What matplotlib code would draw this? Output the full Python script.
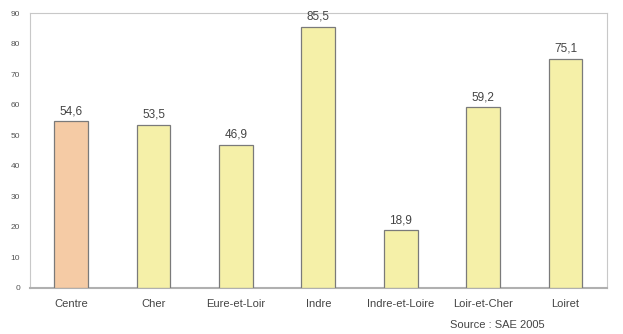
import matplotlib
matplotlib.use("Agg")
from matplotlib import pyplot as plt

categories = ["Centre", "Cher", "Eure-et-Loir", "Indre", "Indre-et-Loire", "Loir-et-Cher", "Loiret"]
values = [54.6, 53.5, 46.9, 85.5, 18.9, 59.2, 75.1]
colors = ["#F5CBA5", "#F5F0A8", "#F5F0A8", "#F5F0A8", "#F5F0A8", "#F5F0A8", "#F5F0A8"]

plt.rcParams["font.family"] = ["Liberation Sans", "DejaVu Sans"]

fig = plt.figure(figsize=(6.23, 3.34), dpi=100)
ax = fig.add_axes([0.048, 0.138, 0.926, 0.823])

x = list(range(len(categories)))
ax.bar(x, values, width=0.41, color=colors, edgecolor="#7a7a7a", linewidth=0.9, zorder=3)

for xi, v in zip(x, values):
    ax.text(xi, v + 1.3, f"{v:.1f}".replace(".", ","), ha="center", va="bottom",
            fontsize=8.5, color="#444444")

ax.set_xlim(-0.5, len(categories) - 0.5)
ax.set_ylim(0, 90)
ax.set_yticks(range(0, 91, 10))
ax.set_xticks(x)
ax.set_xticklabels(categories)
ax.tick_params(axis="y", labelsize=6, colors="#555555", length=0, pad=7)
ax.tick_params(axis="x", labelsize=8, colors="#444444", length=0, pad=8)

for side in ["left", "top", "right"]:
    ax.spines[side].set_color("#c8c8c8")
    ax.spines[side].set_linewidth(0.8)
ax.spines["bottom"].set_color("#b0b0b0")
ax.spines["bottom"].set_linewidth(1.5)

fig.text(0.722, 0.026, "Source : SAE 2005", fontsize=8, color="#444444", ha="left", va="center")

plt.savefig("out.png", dpi=100)
plt.close()
